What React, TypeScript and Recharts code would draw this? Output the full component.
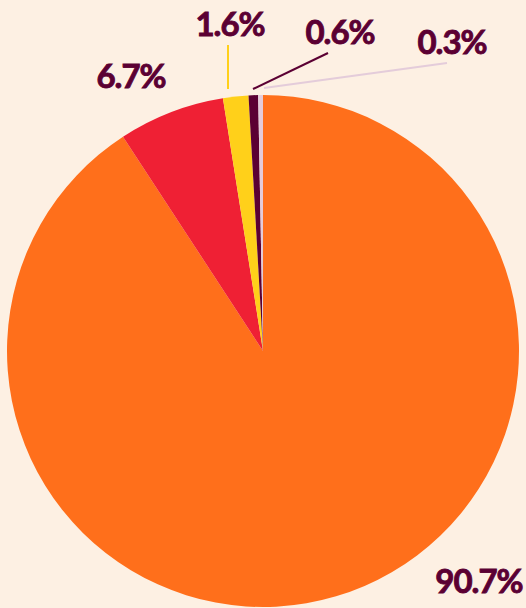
import { Pie, PieChart, Cell } from 'recharts';

const categories = ['A', 'B', 'C', 'D', 'E'];
const shares = [90.7, 6.7, 1.6, 0.6, 0.3];
const sliceColors = ['#ff6f1b', '#ef2034', '#ffd01a', '#5b0033', '#e4ccda'];

const data = categories.map((name, i) => ({ name, value: shares[i] }));

const TEXT = '#5b0033';
const BG = '#fdf0e3';

// label placement relative to the pie centre (text anchor + optional leader line)
const labelLayout: { dx: number; dy: number; line?: [number, number, number, number] }[] = [
  { dx: 216, dy: 242 },
  { dx: -132, dy: -263 },
  { dx: -33, dy: -315, line: [-35, -262, -35, -306] },
  { dx: 77, dy: -307, line: [-10, -262, 65, -298] },
  { dx: 189, dy: -297, line: [1, -263, 184, -288] },
];

// eslint-disable-next-line @typescript-eslint/no-explicit-any
const renderLabel = (props: any) => {
  const { cx, cy, index, value } = props;
  const l = labelLayout[index];
  return (
    <g key={`lbl-${index}`}>
      {l.line && (
        <line
          x1={cx + l.line[0]}
          y1={cy + l.line[1]}
          x2={cx + l.line[2]}
          y2={cy + l.line[3]}
          stroke={sliceColors[index]}
          strokeWidth={2}
        />
      )}
      <text
        x={cx + l.dx}
        y={cy + l.dy}
        textAnchor="middle"
        fill={TEXT}
        stroke={TEXT}
        strokeWidth={0.9}
        fontFamily="Lato, sans-serif"
        fontWeight={700}
        fontSize={33}
        letterSpacing={-1}
      >
        {`${value.toFixed(1)}%`}
      </text>
    </g>
  );
};

export default function App() {
  return (
    <div style={{ width: 526, height: 608, background: BG }}>
      <style>{`body{margin:0;background:${BG}}`}</style>
      <PieChart width={526} height={608} margin={{ top: 0, right: 0, bottom: 0, left: 0 }}>
        <Pie
          data={data}
          dataKey="value"
          nameKey="name"
          cx={263}
          cy={351}
          outerRadius={256}
          startAngle={90}
          endAngle={-270}
          stroke="none"
          label={renderLabel}
          labelLine={false}
          isAnimationActive={false}
        >
          {data.map((d, i) => (
            <Cell key={d.name} fill={sliceColors[i]} />
          ))}
        </Pie>
      </PieChart>
    </div>
  );
}
